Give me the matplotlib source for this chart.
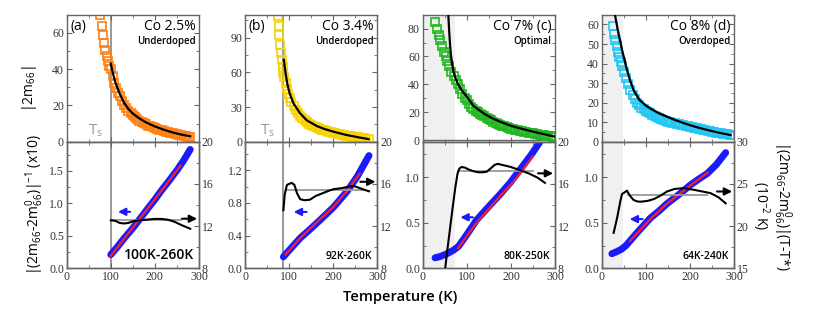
import matplotlib
matplotlib.use('Agg')
import matplotlib.pyplot as plt
from matplotlib.ticker import AutoMinorLocator, MultipleLocator, FormatStrFormatter

# tick labels are serif, all other text is sans
plt.rcParams['font.family'] = ['Liberation Serif', 'DejaVu Serif']
plt.rcParams['mathtext.default'] = 'regular'
SANS = ['Open Sans', 'DejaVu Sans']

# ---- data ----
# (a) Co 2.5%
a_sq_T = [76, 79, 82, 85, 88, 91, 94, 97, 100, 104, 108, 112, 116, 120, 125, 130, 135, 140, 145, 150,
          155, 160, 165, 170, 175, 180, 185, 190, 195, 200, 205, 210, 215, 220, 225, 230, 235, 240,
          245, 250, 255, 260, 265, 270, 275, 280]
a_sq_y = [70, 64, 59, 54.5, 50.5, 47, 44.5, 42, 40, 36, 32.5, 29.5, 27, 25, 22.5, 20.5, 18.5, 17, 15.7,
          14.5, 13.4, 12.5, 11.6, 10.8, 10.1, 9.5, 8.9, 8.4, 7.9, 7.5, 7.1, 6.7, 6.3, 6.0, 5.6, 5.3,
          5.0, 4.7, 4.4, 4.1, 3.8, 3.6, 3.3, 3.1, 2.8, 2.6]
a_fit_T = [100, 105, 110, 120, 130, 140, 150, 165, 180, 200, 220, 240, 260, 280]
a_fit_y = [43, 37.5, 33, 26.5, 21.5, 18, 15.5, 12.8, 10.6, 8.4, 6.6, 5.1, 3.9, 3.0]
a_inv_T = [100, 115, 130, 150, 167, 185, 200, 215, 230, 250, 265, 280]
a_inv_y = [0.21, 0.33, 0.46, 0.62, 0.77, 0.93, 1.06, 1.2, 1.33, 1.51, 1.66, 1.83]
a_lin_T = [100, 140, 180, 220, 258]
a_lin_y = [0.19, 0.54, 0.89, 1.24, 1.58]
a_prod_T = [100, 110, 120, 130, 140, 150, 165, 180, 198, 215, 230, 245, 260, 280]
a_prod_y = [12.55, 12.5, 12.3, 12.25, 12.3, 12.45, 12.55, 12.6, 12.68, 12.68, 12.6, 12.4, 12.1, 11.75]

# (b) Co 3.4%
b_sq_T = [74, 76, 77, 79, 81, 83, 85, 87, 89, 92, 95, 98, 101, 105, 110, 115, 120, 125, 130, 135, 140,
          145, 150, 155, 160, 165, 170, 175, 180, 185, 190, 195, 200, 205, 210, 215, 220, 225, 230,
          235, 240, 245, 250, 255, 260, 265, 270, 275, 280]
b_sq_y = [109, 100, 92, 84, 77, 70.5, 65, 60, 56, 50.5, 45.5, 41.5, 38, 34, 30.5, 27.5, 25, 22.5, 20.5,
          18.7, 17, 15.7, 14.5, 13.6, 12.8, 12, 11.2, 10.5, 9.9, 9.3, 8.8, 8.3, 7.8, 7.3, 6.8, 6.4,
          6.0, 5.6, 5.2, 4.9, 4.6, 4.3, 4.0, 3.7, 3.4, 3.1, 2.8, 2.5, 2.2]
b_fit_T = [88, 92, 96, 101, 110, 125, 140, 163, 180, 201, 230, 250, 280]
b_fit_y = [71, 59, 50, 42, 33, 24.5, 18.5, 13.5, 11, 8.6, 5.8, 4.3, 2.2]
b_inv_T = [87, 100, 110, 125, 148, 170, 201, 231, 254, 281]
b_inv_y = [0.14, 0.22, 0.28, 0.37, 0.48, 0.59, 0.75, 0.94, 1.12, 1.38]
b_lin_T = [92, 125, 160, 200, 230, 260]
b_lin_y = [0.17, 0.37, 0.55, 0.75, 0.94, 1.16]
b_prod_T = [87, 90, 95, 100, 106, 112, 118, 125, 135, 147, 160, 175, 190, 201, 220, 235, 247, 260, 270, 281]
b_prod_y = [13.5, 15.0, 15.9, 16.0, 16.1, 15.9, 15.1, 14.55, 14.45, 14.5, 14.85, 15.1, 15.35, 15.5,
            15.6, 15.75, 15.8, 15.6, 15.45, 15.3]

# (c) Co 7%
c_sq_T = [28, 32, 36, 40, 44, 48, 52, 56, 60, 65, 70, 75, 80, 85, 90, 95, 100, 105, 110, 115, 120, 125,
          130, 135, 140, 145, 150, 155, 160, 165, 170, 175, 180, 185, 190, 195, 200, 205, 210, 215,
          220, 225, 230, 235, 240, 245, 250, 255, 260, 265, 270, 275, 280, 285, 290, 295]
c_sq_y = [85, 80, 75.5, 71.5, 67.5, 63.5, 60, 56.5, 53, 49, 46, 43, 40, 36.5, 33, 30.5, 28.5, 26, 24,
          22.5, 21, 20, 19, 18, 17, 16, 15, 14.2, 13.3, 12.5, 11.8, 11.1, 10.4, 9.8, 9.2, 8.7, 8.2,
          7.7, 7.3, 6.9, 6.6, 6.2, 5.9, 5.6, 5.3, 5.0, 4.8, 4.5, 4.2, 3.9, 3.6, 3.4, 3.1, 2.9, 2.6, 2.4]
c_fit_T = [58, 60, 62, 64, 67, 70, 73, 80, 90, 100, 115, 138, 155, 175, 200, 225, 250, 275, 300]
c_fit_y = [90, 78, 68, 61, 54, 49, 45.5, 40, 35, 31.2, 24.5, 19.2, 16, 13.2, 10.2, 8, 6, 4.2, 2.4]
c_inv_T = [28, 40, 55, 70, 81, 100, 122, 150, 175, 200, 220, 245, 266, 280]
c_inv_y = [0.115, 0.13, 0.16, 0.2, 0.24, 0.37, 0.53, 0.68, 0.81, 0.95, 1.08, 1.24, 1.39, 1.5]
c_lin_T = [80, 122, 175, 213, 250]
c_lin_y = [0.22, 0.5, 0.79, 0.99, 1.23]
c_prod_T = [51, 56, 62, 68, 74, 79, 83, 88, 95, 105, 115, 126, 135, 145, 155, 163, 170, 185, 200,
            220, 240, 260, 277]
c_prod_y = [8.0, 9.8, 11.8, 13.8, 15.7, 17.0, 17.45, 17.6, 17.55, 17.35, 17.2, 17.1, 17.1, 17.15,
            17.5, 17.8, 17.9, 17.75, 17.6, 17.3, 17.0, 16.6, 16.1]

# (d) Co 8%
d_sq_T = [25, 28, 31, 34, 37, 40, 43, 46, 50, 55, 60, 65, 70, 75, 80, 85, 90, 95, 100, 105, 110, 115,
          120, 125, 130, 135, 140, 145, 150, 155, 160, 165, 170, 175, 180, 185, 190, 195, 200, 205,
          210, 215, 220, 225, 230, 235, 240, 245, 250, 255, 260, 265, 270, 275, 280, 285, 290, 295]
d_sq_y = [59, 55, 52, 49, 46, 43.5, 41, 38.5, 35.5, 32.5, 29.5, 26.5, 24, 21.8, 20, 18.7, 17.5, 16.6,
          15.8, 15.1, 14.5, 13.8, 13.2, 12.6, 12, 11.5, 11, 10.6, 10.3, 10, 9.7, 9.4, 9.1, 8.9, 8.7,
          8.5, 8.2, 7.9, 7.6, 7.3, 7, 6.8, 6.5, 6.3, 6.0, 5.8, 5.6, 5.4, 5.1, 4.9, 4.7, 4.5, 4.3,
          4.1, 3.9, 3.7, 3.5, 3.3]
d_fit_T = [30, 34, 38, 42, 46, 50, 57, 64, 72, 85, 100, 110, 130, 148, 165, 186, 205, 224, 250, 270, 292]
d_fit_y = [65, 60, 55.5, 51.5, 47, 43.5, 37, 31.5, 26.5, 21.5, 18.5, 17, 14.5, 12.8, 11.2, 9.5, 8.1,
           6.9, 5.4, 4.4, 3.4]
d_inv_T = [23, 35, 45, 55, 64, 80, 95, 110, 130, 148, 175, 201, 220, 239, 260, 281]
d_inv_y = [0.16, 0.185, 0.21, 0.25, 0.3, 0.39, 0.47, 0.55, 0.63, 0.71, 0.81, 0.915, 0.98, 1.04,
           1.14, 1.27]
d_lin_T = [64, 110, 148, 201, 240]
d_lin_y = [0.3, 0.54, 0.71, 0.91, 1.05]
d_prod_T = [27, 35, 42, 46, 52, 57, 64, 72, 82, 91, 105, 118, 133, 148, 165, 186, 209, 228, 247, 265, 281]
d_prod_y = [19.2, 21.0, 22.9, 23.8, 24.0, 24.2, 23.6, 23.1, 22.9, 22.9, 23.0, 23.2, 23.6, 24.1, 24.4,
            24.5, 24.3, 24.1, 23.9, 23.4, 22.7]

labels = ['(a)', '(b)', '', '']
dopings = ['Co 2.5%', 'Co 3.4%', 'Co 7% (c)', 'Co 8% (d)']
regimes = ['Underdoped', 'Underdoped', 'Optimal', 'Overdoped']
fit_ranges = ['100K-260K', '92K-260K', '80K-250K', '64K-240K']
gray_lines = [(100, 260, 12.55), (92, 270, 15.4), (80, 250, 17.25), (60, 239, 23.7)]
ts_lines = [100, 87, None, None]
shades = [None, None, 73, 48]

colors = ['#ff8014', '#f7d200', '#22b622', '#22c6f4']
top_ylim = [(0, 70), (0, 110), (-1.2, 90), (0, 65)]
top_yticks = [20, 30, 20, 10]
bot_ylim = [(0, 1.95), (0, 1.55), (0, 1.39), (0, 1.39)]
bot_yticks = [0.5, 0.4, 0.5, 0.5]
right_ylim = [(8, 20), (8, 20), (8, 20), (15, 30)]
right_yticks = [4, 4, 4, 5]
# arrow heights: black (right axis), blue (left axis) and blue arrow x-extent
black_arrow_y = [12.7, 16.2, 17.0, 24.1]
blue_arrow = [(150, 110, 0.87), (146, 104, 0.69), (120, 79, 0.56), (99, 57, 0.54)]

panels = [
    (a_sq_T, a_sq_y, a_fit_T, a_fit_y, a_inv_T, a_inv_y, a_lin_T, a_lin_y, a_prod_T, a_prod_y),
    (b_sq_T, b_sq_y, b_fit_T, b_fit_y, b_inv_T, b_inv_y, b_lin_T, b_lin_y, b_prod_T, b_prod_y),
    (c_sq_T, c_sq_y, c_fit_T, c_fit_y, c_inv_T, c_inv_y, c_lin_T, c_lin_y, c_prod_T, c_prod_y),
    (d_sq_T, d_sq_y, d_fit_T, d_fit_y, d_inv_T, d_inv_y, d_lin_T, d_lin_y, d_prod_T, d_prod_y),
]

fig = plt.figure(figsize=(8.17, 3.27), dpi=100)

lefts = [0.0816, 0.2999, 0.5174, 0.7365]
width = 0.162
spine_col = '#666666'


def style_axis(ax):
    for s in ax.spines.values():
        s.set_color(spine_col)
        s.set_linewidth(1.0)
    ax.tick_params(which='both', direction='in', colors=spine_col, labelcolor='#333333',
                   labelsize=8.5, top=True, right=True, pad=2)
    ax.tick_params(which='major', length=3.5)
    ax.tick_params(which='minor', length=2)


for i, (sqT, sqy, fT, fy, iT, iy, lT, ly, pT, py) in enumerate(panels):
    ax_t = fig.add_axes([lefts[i], 0.5667, width, 0.3883])
    ax_b = fig.add_axes([lefts[i], 0.1795, width, 0.3872])
    ax_r = ax_b.twinx()

    for ax in (ax_t, ax_b):
        ax.set_xlim(0, 300)
        ax.xaxis.set_major_locator(MultipleLocator(100))
        ax.xaxis.set_minor_locator(AutoMinorLocator(2))
        if shades[i] is not None:
            ax.axvspan(0, shades[i], color='#f0f0f0', zorder=0, lw=0)
        if ts_lines[i] is not None:
            ax.axvline(ts_lines[i], color='#888888', lw=1.2, zorder=1)
        style_axis(ax)

    # top panel: |2m66| squares + fit
    ax_t.plot(sqT, sqy, 's', mfc='none', mec=colors[i], mew=1.2, ms=6, zorder=2)
    ax_t.plot(fT, fy, '-', color='black', lw=1.6, zorder=3)
    ax_t.set_ylim(*top_ylim[i])
    ax_t.yaxis.set_major_locator(MultipleLocator(top_yticks[i]))
    ax_t.yaxis.set_minor_locator(AutoMinorLocator(2))
    ax_t.tick_params(labelbottom=False)
    if top_ylim[i][0] < 0:
        ax_t.axhline(0, color=spine_col, lw=1.0, zorder=1)

    ax_t.text(0.03, 0.965, labels[i], transform=ax_t.transAxes,
              ha='left', va='top', fontsize=10, family=SANS)
    ax_t.text(0.975, 0.965, dopings[i], transform=ax_t.transAxes, ha='right', va='top',
              fontsize=10, family=SANS)
    ax_t.text(0.975, 0.835, regimes[i], transform=ax_t.transAxes, ha='right', va='top',
              fontsize=7, fontweight='semibold', family=SANS)
    if ts_lines[i] is not None:
        ax_t.text(ts_lines[i] - 52, 0.025 * top_ylim[i][1], r'T$_s$', color='#999999',
                  fontsize=11, ha='left', va='bottom', family=SANS)

    # bottom panel: inverse + linear fit (left), product (right)
    ax_b.plot(iT, iy, '-', color='#1a1aff', lw=5, solid_capstyle='round', zorder=2)
    ax_b.plot(lT, ly, '-', color='#ff2020', lw=1.5, zorder=3)
    ax_b.set_ylim(*bot_ylim[i])
    ax_b.yaxis.set_major_locator(MultipleLocator(bot_yticks[i]))
    ax_b.yaxis.set_minor_locator(AutoMinorLocator(2))
    ax_b.tick_params(right=False, which='both')
    ax_b.yaxis.set_major_formatter(FormatStrFormatter('%.1f'))

    g0, g1, gy = gray_lines[i]
    ax_r.plot([g0, g1], [gy, gy], color='#999999', lw=1.3, zorder=2)
    ax_r.plot(pT, py, '-', color='black', lw=1.5, zorder=3)
    ax_r.set_ylim(*right_ylim[i])
    ax_r.yaxis.set_major_locator(MultipleLocator(right_yticks[i]))
    ax_r.yaxis.set_minor_locator(AutoMinorLocator(2))
    style_axis(ax_r)
    ax_r.tick_params(left=False, top=False, which='both')

    ax_r.annotate('', xy=(302, black_arrow_y[i]), xytext=(255, black_arrow_y[i]),
                  arrowprops=dict(arrowstyle='-|>', color='black', lw=1.5, mutation_scale=11),
                  annotation_clip=False)
    bx0, bx1, by = blue_arrow[i]
    ax_b.annotate('', xy=(bx1, by), xytext=(bx0, by),
                  arrowprops=dict(arrowstyle='-|>', color='#1a1aff', lw=1.5, mutation_scale=11))

    ax_b.text(0.96, 0.05, fit_ranges[i], transform=ax_b.transAxes, ha='right', va='bottom',
              fontsize=10 if i == 0 else 7.5, fontweight='semibold', family=SANS)

fig.text(0.036, 0.73, r'|2m$_{66}$|', rotation=90, ha='center', va='center', fontsize=10,
         family=SANS)
fig.text(0.043, 0.375, r'|(2m$_{66}$-2m$_{66}^{0}$)|$^{-1}$ (x10)', rotation=90,
         ha='center', va='center', fontsize=10, family=SANS)
fig.text(0.958, 0.37, r'|(2m$_{66}$-2m$_{66}^{0}$)|(T-T*)', rotation=270,
         ha='center', va='center', fontsize=10, family=SANS)
fig.text(0.931, 0.37, r'(10$^{-2}$ K)', rotation=270, ha='center', va='center', fontsize=10,
         family=SANS)
fig.text(0.49, 0.092, 'Temperature (K)', ha='center', va='center', fontsize=10.5,
         fontweight='semibold', family=SANS)

fig.savefig('out.png', dpi=100)
